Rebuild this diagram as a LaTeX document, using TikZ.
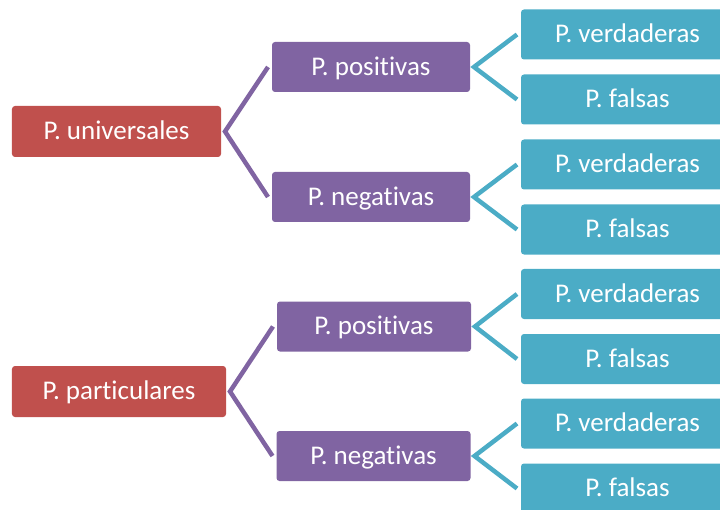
\documentclass[tikz,border=0pt]{standalone}
\usepackage{fontspec}
\setmainfont{Carlito}[Ligatures=NoCommon]

\definecolor{rojo}{HTML}{C0504D}
\definecolor{morado}{HTML}{8064A2}
\definecolor{turquesa}{HTML}{4BACC6}
\tikzset{
	caja/.style={rectangle, rounded corners=3bp, inner sep=0pt, outer xsep=4bp,
		minimum height=50bp, text=white, text height=16.5bp, text depth=0pt,
		font=\fontsize{27bp}{31bp}\selectfont},
	raiz/.style={caja, fill=rojo, minimum height=51bp},
	rama/.style={caja, fill=morado},
	hoja/.style={caja, fill=turquesa, minimum width=213bp},
	enlace/.style={line width=4.5bp, line join=miter}
}
\def\hojas#1#2{
	\node[hoja] (#1-v) at (627.5,{#2-32.5}) {P. verdaderas};
	\node[hoja] (#1-f) at (627.5,{#2+32.5}) {P. falsas};
	\draw[enlace, color=turquesa] (#1-v.west) -- (#1.east) -- (#1-f.west);
}

\begin{document}
\begin{tikzpicture}[x=1bp,y=-1bp]
\useasboundingbox (0,0) rectangle (720,510);
% universales
\node[raiz, minimum width=209bp] (univ) at (116.5,131.5) {P. universales};
\node[rama, minimum width=198bp] (univ-pos) at (371,67) {P. positivas};
\node[rama, minimum width=198bp] (univ-neg) at (371,197) {P. negativas};
\draw[enlace, color=morado] (univ-pos.west) -- (univ.east) -- (univ-neg.west);
\hojas{univ-pos}{67}
\hojas{univ-neg}{197}
% particulares
\node[raiz, minimum width=214bp] (part) at (119,391.5) {P. particulares};
\node[rama, minimum width=194bp] (part-pos) at (374,326.5) {P. positivas};
\node[rama, minimum width=194bp] (part-neg) at (373.5,456) {P. negativas};
\draw[enlace, color=morado] (part-pos.west) -- (part.east) -- (part-neg.west);
\hojas{part-pos}{326.5}
\hojas{part-neg}{456}
\end{tikzpicture}
\end{document}
